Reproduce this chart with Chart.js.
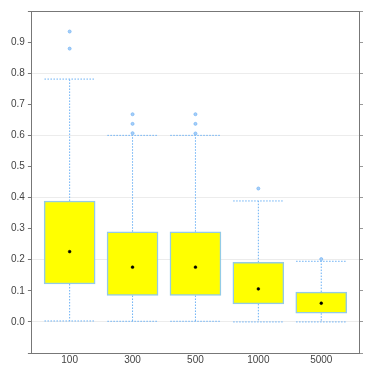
<!DOCTYPE html>
<html>
<head>
<meta charset="utf-8">
<script src="https://cdn.jsdelivr.net/npm/chart.js@4/dist/chart.umd.min.js"></script>
<style>
  html, body { margin: 0; padding: 0; background: #fff; }
  #wrap { width: 374px; height: 374px; }
</style>
</head>
<body>
<div id="wrap"><canvas id="chart"></canvas></div>
<script>
// box plot values
const categories = ['100', '300', '500', '1000', '5000'];
const whiskerLow = [0.003, 0.002, 0.002, 0.0, 0.0];
const q1 = [0.122, 0.085, 0.085, 0.058, 0.028];
const q3 = [0.389, 0.290, 0.290, 0.192, 0.096];
const whiskerHigh = [0.781, 0.600, 0.600, 0.389, 0.195];
const means = [0.226, 0.176, 0.176, 0.106, 0.060];
const outliers = [
  [0.934, 0.879],
  [0.668, 0.637, 0.607],
  [0.668, 0.637, 0.606],
  [0.429],
  [0.202]
];
const yTicks = [0.0, 0.1, 0.2, 0.3, 0.4, 0.5, 0.6, 0.7, 0.8, 0.9];

const half = 0.4; // half box width in category units

// whisker stems and caps, separated by gaps
const whiskerData = [];
categories.forEach((c, i) => {
  whiskerData.push({ x: i, y: q3[i] }, { x: i, y: whiskerHigh[i] }, { x: i, y: null });
  whiskerData.push({ x: i - half, y: whiskerHigh[i] }, { x: i + half, y: whiskerHigh[i] }, { x: i, y: null });
  whiskerData.push({ x: i, y: q1[i] }, { x: i, y: whiskerLow[i] }, { x: i, y: null });
  whiskerData.push({ x: i - half, y: whiskerLow[i] }, { x: i + half, y: whiskerLow[i] }, { x: i, y: null });
});

const boxData = categories.map((c, i) => ({ x: i, y: [q1[i], q3[i]] }));
const meanData = categories.map((c, i) => ({ x: i, y: means[i] }));
const outlierData = [];
outliers.forEach((list, i) => list.forEach(v => outlierData.push({ x: i, y: v })));

const axisColor = '#777';
const font = { family: 'Liberation Sans', size: 10 };

new Chart(document.getElementById('chart'), {
  type: 'bar',
  data: {
    datasets: [
      {
        type: 'line',
        data: whiskerData,
        borderColor: '#6ab0f5',
        borderWidth: 1,
        borderDash: [1.5, 1.5],
        pointRadius: 0,
        spanGaps: false,
        order: 3
      },
      {
        type: 'bar',
        data: boxData,
        backgroundColor: '#ffff00',
        borderColor: '#93cbe6',
        borderWidth: 1.5,
        borderSkipped: false,
        barThickness: 51,
        order: 2
      },
      {
        type: 'scatter',
        data: outlierData,
        pointRadius: 1.5,
        pointBackgroundColor: '#a8cff8',
        pointBorderColor: '#7ab8f5',
        pointBorderWidth: 0.8,
        order: 1
      },
      {
        type: 'scatter',
        data: meanData,
        pointRadius: 1.4,
        pointBackgroundColor: '#000',
        pointBorderColor: '#000',
        pointBorderWidth: 0.5,
        order: 0
      }
    ]
  },
  options: {
    responsive: true,
    maintainAspectRatio: false,
    animation: false,
    layout: { padding: { top: 11, right: 11, bottom: 7, left: 8 } },
    plugins: { legend: { display: false }, tooltip: { enabled: false } },
    scales: {
      x: {
        type: 'linear',
        min: -0.6,
        max: 4.6,
        offset: false,
        grid: { display: false, drawTicks: false },
        border: { display: true, color: axisColor, width: 1 },
        ticks: {
          stepSize: 1,
          autoSkip: false,
          color: '#444',
          font: font,
          padding: 1,
          callback: v => (Number.isInteger(v) && categories[v] !== undefined) ? categories[v] : ''
        }
      },
      xTop: {
        type: 'linear',
        position: 'top',
        min: -0.6,
        max: 4.6,
        grid: { display: false, drawTicks: false },
        border: { display: true, color: axisColor, width: 1 },
        ticks: { display: false }
      },
      y: {
        min: -0.1,
        max: 1.0,
        border: { display: true, color: axisColor, width: 1 },
        grid: {
          drawOnChartArea: true,
          color: ctx => {
            const v = Math.round(ctx.tick.value * 10);
            return (v >= 0 && v <= 8 && v % 2 === 0) ? '#ececec' : 'rgba(0,0,0,0)';
          },
          tickColor: axisColor,
          tickLength: 4,
          lineWidth: 1
        },
        ticks: {
          stepSize: 0.1,
          color: '#444',
          font: font,
          padding: 3,
          callback: v => {
            const r = Math.round(v * 10) / 10;
            return yTicks.some(t => Math.abs(t - r) < 1e-9) ? r.toFixed(1) : '';
          }
        }
      },
      yRight: {
        position: 'right',
        min: -0.1,
        max: 1.0,
        border: { display: true, color: axisColor, width: 1 },
        grid: { drawOnChartArea: false, tickColor: '#999', tickLength: 4 },
        ticks: { stepSize: 0.1, callback: () => '', padding: 0 }
      }
    }
  }
});
</script>
</body>
</html>
